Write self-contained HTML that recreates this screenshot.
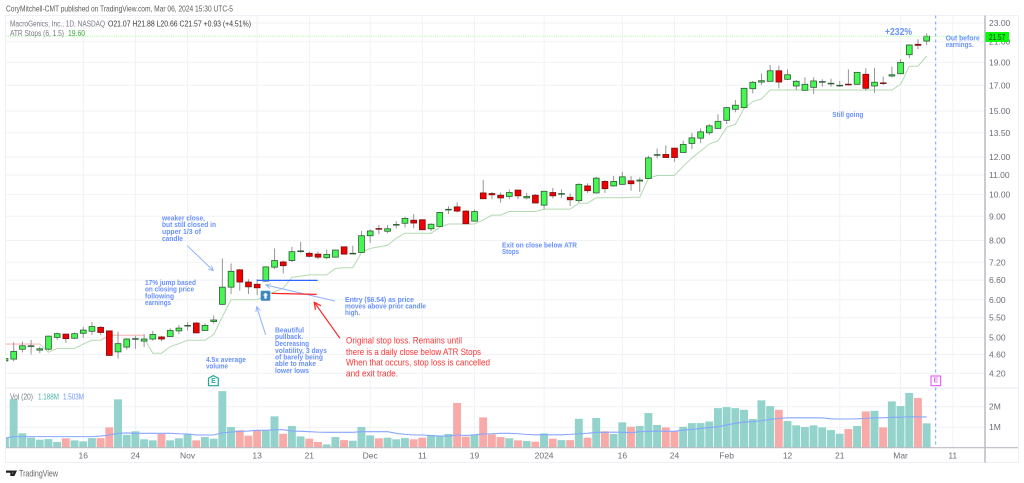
<!DOCTYPE html>
<html lang="en">
<head>
<meta charset="utf-8">
<title>MacroGenics daily chart</title>
<style>
html,body{margin:0;padding:0;background:#fff;width:1024px;height:483px;overflow:hidden}
svg{display:block;font-family:"Liberation Sans",sans-serif;filter:blur(.35px)}
text{dominant-baseline:central}
.note{fill:#4d7cff;font-size:7.4px;font-weight:bold;fill-opacity:.85}
.stop{fill:#ff3535;font-size:9.2px}
.axis{fill:#6a6d76;font-size:8.5px}
.leg{fill:#777a84;font-size:8.4px}
.val{fill:#3c3c3c;font-size:8.4px}
</style>
</head>
<body>
<svg id="chart" xmlns="http://www.w3.org/2000/svg" width="1024" height="483" viewBox="0 0 1024 483">
  <defs>
    <clipPath id="pane-clip"><rect x="6" y="15" width="979" height="433"/></clipPath>
    <marker id="arrow-blue" viewBox="0 0 10 10" refX="9" refY="5" markerWidth="6" markerHeight="6" orient="auto"><path d="M1 1L9 5L1 9" fill="none" stroke="#8fb0ff" stroke-width="1.4"/></marker>
    <marker id="arrow-red" viewBox="0 0 10 10" refX="9" refY="5" markerWidth="7" markerHeight="7" orient="auto"><path d="M1 1L9 5L1 9" fill="none" stroke="#ff2222" stroke-width="1.5"/></marker>
  </defs>

  <text x="6" y="8.5" font-size="8.4" fill="#5a5a5a" textLength="227" lengthAdjust="spacingAndGlyphs">CoryMitchell-CMT published on TradingView.com, Mar 06, 2024 15:30 UTC-5</text>

  <g id="grid"></g>

  <rect x="5.5" y="15.5" width="1013" height="447" fill="none" stroke="#eef0f5" stroke-width="1"/>
  <line x1="6" x2="1018" y1="388" y2="388" stroke="#eef0f5" stroke-width="1.6"/>

  <g id="volume-pane" clip-path="url(#pane-clip)"></g>
  <g id="atr-lines" clip-path="url(#pane-clip)"></g>
  <g id="candles" clip-path="url(#pane-clip)"></g>

  <line x1="6" x2="985" y1="36.3" y2="36.3" stroke="#9dff9d" stroke-width="1" stroke-dasharray="1 1.2"/>
  <line x1="6" x2="1018" y1="447.7" y2="447.7" stroke="#b9bcc4" stroke-width="1.1"/>
  <line x1="985" x2="985" y1="15.5" y2="462.5" stroke="#b4b7be" stroke-width="1.4"/>
  <line x1="935.7" x2="935.7" y1="15.5" y2="447" stroke="#7c9bff" stroke-width="1" stroke-dasharray="3 3"/>

  <g id="axis-labels"></g>

  <rect x="985.5" y="32" width="23.5" height="10" fill="#0cf80c"/>
  <text x="989" y="37" font-size="8.6" fill="#1d3a1d" textLength="16.3" lengthAdjust="spacingAndGlyphs">21.57</text>

  <!-- legend -->
  <text class="leg" x="10" y="23.5" textLength="95" lengthAdjust="spacingAndGlyphs">MacroGenics, Inc., 1D, NASDAQ</text>
  <text class="val" x="108" y="23.5" textLength="143" lengthAdjust="spacingAndGlyphs">O21.07  H21.88  L20.66  C21.57  +0.93 (+4.51%)</text>
  <text class="leg" x="10" y="33" textLength="54" lengthAdjust="spacingAndGlyphs">ATR Stops (6, 1.5)</text>
  <text x="68" y="33" font-size="8.4" fill="#3aa83a" textLength="17" lengthAdjust="spacingAndGlyphs">19.60</text>
  <text class="leg" x="10" y="396.7" textLength="23" lengthAdjust="spacingAndGlyphs">Vol (20)</text>
  <text x="38" y="396.7" font-size="8.4" fill="#4db6a8" textLength="21" lengthAdjust="spacingAndGlyphs">1.188M</text>
  <text x="63" y="396.7" font-size="8.4" fill="#6f93ff" textLength="21" lengthAdjust="spacingAndGlyphs">1.503M</text>

  <!-- annotations -->
  <g class="note">
    <text x="162" y="218" textLength="43" lengthAdjust="spacingAndGlyphs">weaker close,</text>
    <text x="162" y="224.7" textLength="54" lengthAdjust="spacingAndGlyphs">but still closed in</text>
    <text x="162" y="231.3" textLength="39" lengthAdjust="spacingAndGlyphs">upper 1/3 of</text>
    <text x="162" y="238.3" textLength="21" lengthAdjust="spacingAndGlyphs">candle</text>
  </g>
  <g class="note">
    <text x="145" y="282.3" textLength="51" lengthAdjust="spacingAndGlyphs">17% jump based</text>
    <text x="145" y="289" textLength="49" lengthAdjust="spacingAndGlyphs">on closing price</text>
    <text x="145" y="296" textLength="29" lengthAdjust="spacingAndGlyphs">following</text>
    <text x="145" y="302.7" textLength="26" lengthAdjust="spacingAndGlyphs">earnings</text>
  </g>
  <g class="note">
    <text x="275" y="330" textLength="29" lengthAdjust="spacingAndGlyphs">Beautiful</text>
    <text x="275" y="336.7" textLength="28" lengthAdjust="spacingAndGlyphs">pullback.</text>
    <text x="275" y="343.3" textLength="34" lengthAdjust="spacingAndGlyphs">Decreasing</text>
    <text x="275" y="350.3" textLength="52" lengthAdjust="spacingAndGlyphs">volatility, 3 days</text>
    <text x="275" y="357" textLength="48" lengthAdjust="spacingAndGlyphs">of barely being</text>
    <text x="275" y="363.7" textLength="41" lengthAdjust="spacingAndGlyphs">able to make</text>
    <text x="275" y="370.3" textLength="34" lengthAdjust="spacingAndGlyphs">lower lows</text>
  </g>
  <g class="note">
    <text x="206" y="359.3" textLength="40" lengthAdjust="spacingAndGlyphs">4.5x average</text>
    <text x="206" y="366" textLength="22" lengthAdjust="spacingAndGlyphs">volume</text>
  </g>
  <g class="note">
    <text x="345" y="299.3" textLength="69" lengthAdjust="spacingAndGlyphs">Entry ($6.54) as price</text>
    <text x="345" y="306" textLength="81" lengthAdjust="spacingAndGlyphs">moves above prior candle</text>
    <text x="345" y="312.7" textLength="15" lengthAdjust="spacingAndGlyphs">high.</text>
  </g>
  <g class="stop">
    <text x="346" y="340.7" textLength="116" lengthAdjust="spacingAndGlyphs">Original stop loss. Remains until</text>
    <text x="346" y="352" textLength="135" lengthAdjust="spacingAndGlyphs">there is a daily close below ATR Stops</text>
    <text x="346" y="362.7" textLength="144" lengthAdjust="spacingAndGlyphs">When that occurs, stop loss is cancelled</text>
    <text x="346" y="373.7" textLength="52" lengthAdjust="spacingAndGlyphs">and exit trade.</text>
  </g>
  <g class="note">
    <text x="502" y="245" textLength="75" lengthAdjust="spacingAndGlyphs">Exit on close below ATR</text>
    <text x="502" y="251.7" textLength="17" lengthAdjust="spacingAndGlyphs">Stops</text>
  </g>
  <text class="note" x="832.3" y="114.7" textLength="31" lengthAdjust="spacingAndGlyphs">Still going</text>
  <text x="885" y="32" font-size="10.5" font-weight="bold" fill="#4d7cff" fill-opacity=".85" textLength="27" lengthAdjust="spacingAndGlyphs">+232%</text>
  <g class="note">
    <text x="945.7" y="38" textLength="34" lengthAdjust="spacingAndGlyphs">Out before</text>
    <text x="945.7" y="44.7" textLength="28" lengthAdjust="spacingAndGlyphs">earnings.</text>
  </g>

  <!-- drawings -->
  <line x1="187.3" y1="245.7" x2="213.3" y2="270.7" stroke="#8fb0ff" stroke-width="1" marker-end="url(#arrow-blue)"/>
  <line x1="335" y1="301" x2="265.7" y2="285" stroke="#8fb0ff" stroke-width="1" marker-end="url(#arrow-blue)"/>
  <line x1="265.7" y1="335" x2="256.7" y2="306.7" stroke="#8fb0ff" stroke-width="1" marker-end="url(#arrow-blue)"/>
  <line x1="256.7" y1="280.4" x2="317.7" y2="280.4" stroke="#2f66ff" stroke-width="1.2"/>
  <line x1="271.7" y1="293.4" x2="316.7" y2="294.4" stroke="#ff2222" stroke-width="1.2"/>
  <line x1="340" y1="338.3" x2="314.3" y2="302.3" stroke="#ff2222" stroke-width="1.2" marker-end="url(#arrow-red)"/>

  <g>
    <rect x="260.7" y="290.7" width="9.6" height="10" rx="1" fill="#3f88bd"/>
    <path d="M265.5 292.6l2.6 2.8h-1.5v3.2h-2.2v-3.2h-1.5z" fill="#fff"/>
  </g>
  <g>
    <path d="M213.4 375.6l4.9 2.6v7.5h-9.8v-7.5z" fill="#fff" stroke="#26a69a" stroke-width="1.2"/>
    <text x="213.4" y="381.5" font-size="7" font-weight="bold" fill="#26a69a" text-anchor="middle">E</text>
  </g>
  <g>
    <rect x="931" y="376" width="9.6" height="9.6" fill="#fff" stroke="#e666f5" stroke-width="1.2"/>
    <text x="935.8" y="381" font-size="7" font-weight="bold" fill="#e666f5" text-anchor="middle">E</text>
  </g>

  <g>
    <path d="M6 470.5h6.6v5.5h-2.3v-3.3H6z M11.8 476l2.6-5.5h2.6l-2.6 5.5z" fill="#222"/>
    <circle cx="13.6" cy="471.6" r="1.1" fill="#222"/>
    <text x="19" y="473.3" font-size="9.2" fill="#666" textLength="39" lengthAdjust="spacingAndGlyphs">TradingView</text>
  </g>
</svg>

<script>
const opens=[
4.46,4.50,4.72,4.79,4.70,4.72,5.00,5.08,4.98,5.10,
5.15,5.25,5.16,4.66,4.77,4.96,4.91,4.96,5.01,5.02,
5.16,5.29,5.36,5.17,5.40,5.87,6.38,6.94,6.54,6.47,
6.57,7.03,7.21,7.26,7.58,7.52,7.49,7.36,7.38,7.76,
7.51,7.55,8.19,8.48,8.37,8.64,8.70,8.83,8.85,8.47,
8.57,9.30,9.42,9.23,8.79,10.08,10.05,9.97,9.91,10.22,
9.84,9.97,9.50,10.10,10.04,9.87,9.71,10.43,10.08,10.66,
10.43,10.51,10.69,10.68,10.81,12.13,12.15,12.53,12.27,12.82,
13.15,13.50,13.79,14.34,15.13,15.25,16.72,17.27,17.33,18.24,
17.50,16.94,16.59,16.83,17.30,17.16,16.99,17.09,17.08,17.93,
16.94,17.20,17.78,17.98,19.72,20.74,21.07];
const highs=[
4.52,4.88,4.90,4.94,4.78,5.04,5.12,5.09,5.12,5.26,
5.39,5.28,5.17,5.14,4.98,5.04,5.08,5.16,5.04,5.23,
5.31,5.38,5.39,5.35,5.56,7.33,7.16,6.97,6.63,6.63,
7.05,7.70,7.26,7.76,7.95,7.58,7.58,7.66,7.66,7.77,
7.80,8.38,8.45,8.63,8.63,8.79,8.98,9.10,8.86,8.70,
9.18,9.45,9.63,9.27,9.30,10.74,10.13,10.10,10.25,10.25,
10.08,10.02,10.19,10.33,10.25,10.06,10.56,10.56,10.90,10.74,
10.95,11.17,10.94,10.86,12.08,12.51,12.69,12.54,12.98,13.50,
13.79,14.08,14.76,15.32,15.83,16.80,17.36,18.01,18.76,18.70,
18.36,17.44,17.67,17.67,17.50,17.55,17.36,18.36,18.13,18.47,
18.50,17.72,18.61,19.30,20.74,21.26,21.88];
const lows=[
4.45,4.45,4.65,4.60,4.63,4.69,4.94,4.87,4.96,4.99,
5.06,5.06,4.58,4.51,4.71,4.73,4.77,4.92,4.91,5.01,
5.08,5.17,5.10,5.16,5.35,5.85,6.17,6.27,6.17,6.14,
6.55,6.96,6.82,7.21,7.54,7.37,7.31,7.31,7.37,7.47,
7.49,7.54,7.91,8.25,8.29,8.49,8.53,8.49,8.42,8.38,
8.55,9.10,9.17,8.67,8.77,9.78,9.77,9.61,9.78,9.78,
9.77,9.59,9.31,9.82,9.84,9.46,9.61,10.08,10.05,10.08,
10.39,10.48,10.19,10.13,10.79,11.92,11.96,11.72,12.25,12.47,
12.86,13.35,13.75,14.08,14.91,15.20,16.35,17.02,17.30,16.75,
17.44,16.61,16.56,16.29,16.88,16.88,16.88,16.99,17.02,16.56,
16.39,17.02,17.67,17.95,19.38,20.25,20.66];
const closes=[
4.51,4.67,4.80,4.80,4.73,5.03,5.09,4.97,5.09,5.18,
5.27,5.12,4.58,4.85,4.96,4.97,4.96,5.07,4.96,5.17,
5.23,5.30,5.11,5.30,5.44,6.38,6.89,6.54,6.39,6.36,
7.04,7.26,7.08,7.58,7.61,7.41,7.38,7.48,7.64,7.49,
7.52,8.19,8.38,8.46,8.47,8.65,8.91,8.71,8.43,8.66,
9.17,9.31,9.23,8.68,9.21,9.80,9.99,9.84,10.10,9.94,
9.91,9.60,10.16,9.94,10.05,9.75,10.51,10.19,10.83,10.29,
10.66,10.90,10.54,10.73,11.95,12.14,11.97,11.97,12.76,13.17,
13.56,13.96,14.27,15.25,15.43,16.75,17.25,17.38,18.24,17.27,
17.89,17.33,17.08,17.36,17.31,17.17,17.00,17.08,18.10,16.75,
17.25,17.19,17.89,19.00,20.67,20.64,21.57];
const atrUp=[
null,null,null,null,4.84,4.65,4.74,4.74,4.74,4.84,
4.93,4.93,null,null,null,null,4.98,4.63,4.63,4.78,
4.85,4.93,4.93,4.93,5.07,5.53,6.00,6.00,6.00,6.00,
6.14,6.24,6.35,6.69,6.73,6.77,6.77,6.77,6.99,7.01,
7.01,7.55,7.70,7.76,7.82,8.09,8.29,8.29,8.29,8.29,
8.53,8.67,8.67,8.67,8.67,8.84,9.05,9.05,9.21,9.21,
9.21,9.21,9.32,9.32,9.32,9.32,9.59,9.59,9.85,9.85,
9.85,9.85,9.87,9.87,10.81,10.97,10.97,10.97,11.48,11.94,
12.35,12.78,12.98,13.87,14.06,15.20,15.70,15.91,16.61,16.61,
16.61,16.61,16.61,16.61,16.61,16.61,16.61,16.61,16.61,16.61,
16.61,16.61,16.61,17.08,18.65,18.65,19.60];
const atrDown=[
4.84,4.84,4.84,4.84,4.84,null,null,null,null,null,
null,4.93,5.05,5.05,5.05,5.05,5.05];
const volumes=[
.49,2.37,.70,.49,.39,.42,.28,.46,.36,.31,
.47,.47,.99,2.36,.63,.80,.41,.36,.67,.36,
.46,.65,.36,.52,.44,2.76,1.01,.85,.59,.86,
.83,1.53,.68,1.06,.55,.44,.28,.16,.52,.37,
.34,1.01,.60,.46,.49,.41,.47,.41,.49,.62,
.55,.67,2.18,.54,.62,1.48,.65,.52,.46,.36,
.33,.29,.70,.44,.37,.37,1.41,.49,1.45,.80,
.67,1.24,1.02,1.06,1.69,1.11,.99,.81,1.02,1.20,
1.20,1.28,1.93,1.98,1.93,1.85,1.40,2.31,2.03,1.85,
1.30,1.09,1.01,1.09,.99,.86,.68,.91,1.06,1.77,
1.80,.99,2.26,2.03,2.67,2.42,1.188];
const volumeMA=[
.47,.54,.54,.54,.54,.54,.54,.54,.54,.54,
.54,.57,.62,.70,.72,.70,.70,.70,.70,.70,
.68,.67,.62,.62,.62,.73,.76,.80,.81,.85,
.85,.88,.88,.81,.80,.78,.76,.75,.75,.75,
.75,.78,.78,.78,.78,.70,.65,.62,.62,.59,
.57,.57,.62,.60,.63,.67,.68,.70,.70,.68,
.65,.63,.63,.63,.63,.65,.68,.70,.75,.75,
.76,.75,.73,.78,.80,.81,.80,.80,.86,.89,
.94,.98,1.02,1.11,1.19,1.25,1.27,1.32,1.38,1.43,
1.46,1.46,1.46,1.46,1.45,1.41,1.40,1.40,1.41,1.43,
1.46,1.46,1.48,1.48,1.51,1.50,1.503];
const priceTicks=[23,21,19,17,15,13.5,12,11,10,9,8,7.2,6.6,6,5.5,5,4.6,4.2];
const volumeTicks=[2,1];
const timeLabels=["16","24","Nov","13","21","Dec","11","19","2024","16","24","Feb","12","21","Mar","11"];
const timeBars=[9,15,21,29,35,42,48,54,62,71,77,83,90,96,103,109];

const NS="http://www.w3.org/2000/svg";
function xAt(i){return 5+i*8.695;}
function yPrice(p){return 23+206*Math.log(23/p);}
function yVol(v){return 447.7-v*20.5;}
function mk(tag,parent,attrs){
  const el=document.createElementNS(NS,tag);
  for(const k in attrs)el.setAttribute(k,attrs[k]);
  parent.appendChild(el);
  return el;
}
const grid=document.getElementById('grid');
const labels=document.getElementById('axis-labels');
const volPane=document.getElementById('volume-pane');
const atr=document.getElementById('atr-lines');
const candles=document.getElementById('candles');

priceTicks.forEach(function(p){
  const gl=mk('line',grid,{x1:6,x2:985,y1:yPrice(p),y2:yPrice(p),stroke:'#f0f2f6','stroke-width':1});
  
  
  const t=mk('text',labels,{x:989,y:yPrice(p),class:'axis'});
  
  
  t.textContent=p.toFixed(2);
});
volumeTicks.forEach(function(v){
  const gl=mk('line',grid,{x1:6,x2:985,y1:yVol(v),y2:yVol(v),stroke:'#f0f2f6','stroke-width':1});
  
  
  const t=mk('text',labels,{x:989,y:yVol(v),class:'axis'});
  
  
  t.textContent=v+'M';
});
timeLabels.forEach(function(lab,k){
  const x=xAt(timeBars[k]);
  const gl=mk('line',grid,{x1:x,x2:x,y1:15.5,y2:447.7,stroke:'#f0f2f6','stroke-width':1});
  
  
  const t=mk('text',labels,{x:x,y:455.3,class:'axis','text-anchor':'middle'});
  
  
  t.textContent=lab;
});

volumes.forEach(function(v,i){
  const up=closes[i]>=opens[i];
  const b=mk('rect',volPane,{x:xAt(i)-4,y:yVol(v),width:7.9,height:447.7-yVol(v),fill:up?'#93d3cc':'#f8aaa8'});
  
  
});
const maPts=volumeMA.map(function(v,i){return xAt(i)+','+yVol(v);}).join(' ');
const maLine=mk('polyline',volPane,{points:maPts,fill:'none',stroke:'#86a6ff','stroke-width':1.1});



function segments(series){
  const out=[];let cur=[];
  series.forEach(function(v,i){
    if(v===null){if(cur.length)out.push(cur);cur=[];}
    else cur.push(xAt(i)+','+yPrice(v));
  });
  if(cur.length)out.push(cur);
  return out;
}
segments(atrDown).forEach(function(seg){
  const l=mk('polyline',atr,{points:seg.join(' '),fill:'none',stroke:'#f8c4c4','stroke-width':1.4});
  
  
});
segments(atrUp).forEach(function(seg){
  const l=mk('polyline',atr,{points:seg.join(' '),fill:'none',stroke:'#b2dab2','stroke-width':1});
  
  
});

opens.forEach(function(o,i){
  const c=closes[i],x=xAt(i),up=c>=o;
  const g=mk('g',candles,{});
  
  
  const top=Math.min(yPrice(o),yPrice(c)),bot=Math.max(yPrice(o),yPrice(c));
  mk('line',g,{x1:x,x2:x,y1:yPrice(highs[i]),y2:yPrice(lows[i]),stroke:'#969696','stroke-width':1});
  mk('rect',g,{x:x-2.9,y:top,width:5.8,height:Math.max(bot-top,0.7),fill:up?'#46f652':'#f00000',stroke:up?'#2e5b34':'#7a1010','stroke-width':0.8});
});
</script>
</body>
</html>
